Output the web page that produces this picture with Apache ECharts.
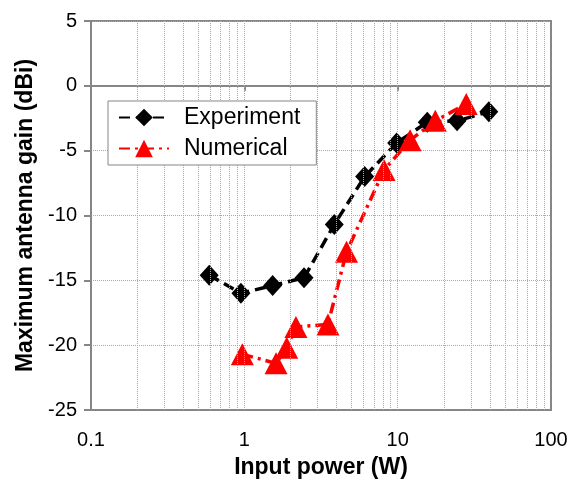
<!DOCTYPE html>
<html>
<head>
<meta charset="utf-8">
<script src="https://cdn.jsdelivr.net/npm/echarts@6/dist/echarts.min.js"></script>
<style>
html,body{margin:0;padding:0;background:#fff;}
#chart{width:571px;height:486px;}
</style>
</head>
<body>
<div id="chart"></div>
<script>
// Experiment (black diamonds)
var expX = [0.59, 0.95, 1.53, 2.45, 3.86, 6.09, 9.85, 15.6, 24.4, 39.3];
var expY = [-14.6, -16.0, -15.4, -14.8, -10.7, -7.0, -4.4, -2.8, -2.7, -2.0];
// Numerical (red triangles)
var numX = [0.97, 1.61, 1.89, 2.17, 3.51, 4.64, 8.15, 12.05, 17.6, 28.0];
var numY = [-20.7, -21.4, -20.2, -18.6, -18.4, -12.8, -6.5, -4.2, -2.7, -1.4];
// Axis ticks
var xTicks = [0.1, 1, 10, 100];
var yTicks = [-25, -20, -15, -10, -5, 0, 5];
// Log-scale grid lines (2..9 in each decade, plus decades)
var xGrid = [];
[0.1, 1, 10].forEach(function (d) {
  for (var k = 1; k <= 9; k++) { if (k > 1 || d > 0.1) xGrid.push(+(d * k).toPrecision(3)); }
});

function pairs(xs, ys) { return xs.map(function (x, i) { return [x, ys[i]]; }); }

var FONT = '"Liberation Sans", Arial, sans-serif';
var AX = '#868686';
var GRID = '#a8a8a8';

var chart = echarts.init(document.getElementById('chart'), null, {renderer: 'canvas'});
chart.setOption({
  animation: false,
  backgroundColor: '#fff',
  textStyle: {fontFamily: FONT},
  grid: {left: 91, right: 20, top: 21, bottom: 76, show: true, borderColor: AX, borderWidth: 2, backgroundColor: 'transparent'},
  legend: {
    left: 108, top: 101, orient: 'vertical',
    data: ['Experiment', 'Numerical'],
    backgroundColor: '#fff', borderColor: AX, borderWidth: 1,
    padding: [5, 16, 5, 10],
    itemWidth: 50, itemHeight: 22, itemGap: 8,
    textStyle: {fontFamily: FONT, fontSize: 23, color: '#000', padding: [0, 0, 0, 10]},
    z: 10
  },
  xAxis: [{
    type: 'log', logBase: 10, min: 0.1, max: 100,
    name: 'Input power (W)', nameLocation: 'middle', nameGap: 46,
    nameTextStyle: {fontFamily: FONT, fontSize: 23, fontWeight: 'bold', color: '#000'},
    axisLine: {onZero: false, lineStyle: {color: AX, width: 2}},
    axisTick: {show: false},
    axisLabel: {fontFamily: FONT, fontSize: 20, color: '#000', margin: 20,
      formatter: function (v) { return xTicks.indexOf(+v.toPrecision(3)) >= 0 ? String(+v.toPrecision(3)) : ''; }},
    splitLine: {show: false}
  }, {
    type: 'log', logBase: 10, min: 0.1, max: 100, position: 'top',
    axisLine: {onZero: true, lineStyle: {color: AX, width: 2}},
    axisTick: {show: true, inside: true, length: 5, lineStyle: {color: AX, width: 2}},
    axisLabel: {show: false},
    splitLine: {show: false}
  }],
  yAxis: {
    type: 'value', min: yTicks[0], max: yTicks[yTicks.length - 1], interval: 5,
    name: 'Maximum antenna gain (dBi)', nameLocation: 'middle', nameGap: 54,
    nameTextStyle: {fontFamily: FONT, fontSize: 23, fontWeight: 'bold', color: '#000'},
    axisLine: {lineStyle: {color: AX, width: 2}},
    axisTick: {show: true, length: 7, lineStyle: {color: AX, width: 2}},
    axisLabel: {fontFamily: FONT, fontSize: 20, color: '#000', margin: 14},
    splitLine: {show: true, lineStyle: {color: GRID, type: 'dotted', width: 1}}
  },
  series: [{
    name: 'gridlines', type: 'line', data: [], z: 1, silent: true,
    markLine: {
      silent: true, symbol: 'none', animation: false,
      label: {show: false},
      lineStyle: {color: GRID, type: 'dotted', width: 1},
      data: xGrid.map(function (v) { return {xAxis: v}; })
    }
  }, {
    name: 'Experiment', type: 'line', data: pairs(expX, expY), z: 3,
    symbol: 'diamond', symbolSize: [19, 21],
    itemStyle: {color: '#000'},
    lineStyle: {color: '#000', width: 3.5, type: [11, 6]}
  }, {
    name: 'Numerical', type: 'line', data: pairs(numX, numY), z: 4,
    symbol: 'triangle', symbolSize: [23, 22],
    itemStyle: {color: '#ff0000'},
    lineStyle: {color: '#ff0000', width: 3.5, type: [11, 5, 3, 5]}
  }]
});
</script>
</body>
</html>
